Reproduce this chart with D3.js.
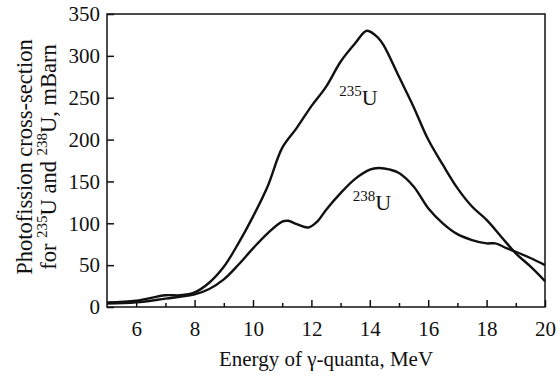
<html lang="en">
<head>
	<script src="https://cdn.jsdelivr.net/npm/d3@7"></script>
	<style>
		body { margin: 0; background: #fff; }
	</style>
</head>
<body>
	<script type="text/javascript">
		var w = 560;
		var h = 378;
		var serif = "'Liberation Serif', 'Times New Roman', serif";

		// energies, MeV
		var energy235 = [5, 6, 7, 7.5, 8, 8.5, 9, 9.5, 10, 10.5, 11, 11.5, 12, 12.5, 13, 13.5, 13.9, 14.3, 14.5, 15, 15.5, 16, 16.5, 17, 17.5, 18, 18.5, 19, 19.5, 20];
		var sigma235  = [5.5, 7.5, 14, 14, 17.5, 29, 48, 76, 108, 144, 190, 214, 240, 263, 293, 315, 330, 321, 311, 275, 239, 200, 170, 142, 120, 104, 84, 64, 48.5, 31];

		var energy238 = [5, 6, 7, 8, 8.5, 9, 9.5, 10, 10.5, 11, 11.2, 11.5, 11.9, 12.2, 12.5, 13, 13.5, 14, 14.3, 14.7, 15, 15.5, 16, 16.5, 17, 17.5, 18, 18.3, 18.7, 19, 19.5, 20];
		var sigma238  = [4, 5.5, 10, 15, 21.5, 33, 50.5, 70, 88, 102, 103, 99, 95, 102, 116, 136, 153, 164, 166, 164, 160, 144, 118, 100, 87, 80, 76, 76, 70, 66, 58.5, 50];

		var xMajor = [6, 8, 10, 12, 14, 16, 18, 20];
		var xMinor = [7, 9, 11, 13, 15, 17, 19];
		var yTicks = [0, 50, 100, 150, 200, 250, 300, 350];

		var margin = {left: 107, right: 15, top: 14, bottom: 71};

		var svg = d3.select("body")
				.append("svg")
				.attr("width", w)
				.attr("height", h)
				.attr("font-family", serif);

		var x = d3.scaleLinear().domain([5, 20]).range([margin.left, w - margin.right]);
		var y = d3.scaleLinear().domain([0, 350]).range([h - margin.bottom, margin.top]);

		// frame
		svg.append("rect")
			.attr("x", x(5)).attr("y", y(350))
			.attr("width", x(20) - x(5)).attr("height", y(0) - y(350))
			.attr("fill", "none").attr("stroke", "#111").attr("stroke-width", 1.5);

		// bottom axis, ticks inward
		var xAxis = d3.axisBottom(x).tickValues(xMajor).tickSize(-7).tickPadding(14)
				.tickFormat(d3.format("d"));
		var gx = svg.append("g").attr("transform", "translate(0," + y(0) + ")").call(xAxis)
				.attr("font-family", serif).attr("font-size", 21);
		gx.select(".domain").remove();
		gx.selectAll("line").attr("stroke", "#111").attr("stroke-width", 1.5);
		gx.selectAll("text").attr("fill", "#111");

		var xAxisMinor = d3.axisBottom(x).tickValues(xMinor).tickSize(-4).tickFormat("");
		var gxm = svg.append("g").attr("transform", "translate(0," + y(0) + ")").call(xAxisMinor);
		gxm.select(".domain").remove();
		gxm.selectAll("line").attr("stroke", "#111").attr("stroke-width", 1.5);

		// left axis, ticks inward
		var yAxis = d3.axisLeft(y).tickValues(yTicks).tickSize(-7).tickPadding(7);
		var gy = svg.append("g").attr("transform", "translate(" + x(5) + ",0)").call(yAxis)
				.attr("font-family", serif).attr("font-size", 21);
		gy.select(".domain").remove();
		gy.selectAll("line").attr("stroke", "#111").attr("stroke-width", 1.5);
		gy.selectAll("text").attr("fill", "#111");

		// curves
		var line = d3.line()
				.x(function(d) { return x(d[0]); })
				.y(function(d) { return y(d[1]); })
				.curve(d3.curveCatmullRom.alpha(0.5));

		var u235 = d3.zip(energy235, sigma235);
		var u238 = d3.zip(energy238, sigma238);

		[u235, u238].forEach(function(data) {
			svg.append("path")
				.datum(data)
				.attr("d", line)
				.attr("fill", "none")
				.attr("stroke", "#111")
				.attr("stroke-width", 2.4)
				.attr("stroke-linejoin", "round");
		});

		// curve labels
		function isotope(mass, ex, ey) {
			var t = svg.append("text").attr("x", x(ex)).attr("y", y(ey))
					.attr("font-size", 22).attr("fill", "#111");
			t.append("tspan").text(mass).attr("font-size", 15).attr("dy", -9);
			t.append("tspan").text("U").attr("dy", 9);
		}
		isotope("235", 12.95, 241);
		isotope("238", 13.42, 116);

		// axis titles
		svg.append("text")
			.attr("x", (x(5) + x(20)) / 2 + 0)
			.attr("y", 366)
			.attr("text-anchor", "middle")
			.attr("font-size", 21)
			.attr("fill", "#111")
			.text("Energy of \u03b3-quanta, MeV");

		var ty = svg.append("g").attr("transform", "translate(32,157) rotate(-90)")
				.attr("font-size", 22.5).attr("fill", "#111");
		ty.append("text")
			.attr("text-anchor", "middle")
			.text("Photofission cross-section");
		var t2 = ty.append("text")
			.attr("y", 24)
			.attr("text-anchor", "middle");
		t2.append("tspan").text("for ");
		t2.append("tspan").text("235").attr("font-size", 15).attr("dy", -9);
		t2.append("tspan").text("U and ").attr("dy", 9);
		t2.append("tspan").text("238").attr("font-size", 15).attr("dy", -9);
		t2.append("tspan").text("U, mBarn").attr("dy", 9);
	</script>
</body>
</html>
